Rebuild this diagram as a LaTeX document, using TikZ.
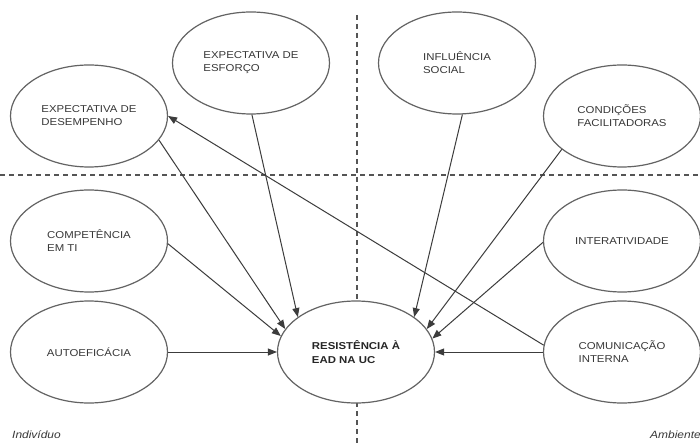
\documentclass[tikz,border=0pt]{standalone}
\usepackage{fontspec}
\setmainfont{Liberation Sans}[FakeStretch=1.14]
\usetikzlibrary{shapes.geometric,arrows.meta}
\definecolor{txt}{HTML}{383838}
\definecolor{edge}{HTML}{636363}
\definecolor{conn}{HTML}{3C3C3C}
\definecolor{dash}{HTML}{555555}
\tikzset{
  construct/.style={ellipse, draw=edge, line width=1.2pt, fill=white,
    minimum width=157pt, minimum height=102pt, inner sep=0pt,
    align=left, text=txt, font=\fontsize{10}{13}\selectfont},
  central/.style={construct, font=\fontsize{10}{13.5}\selectfont\bfseries, text=black!85},
  arr/.style={draw=conn, line width=1pt, -{Triangle[length=9pt,width=7pt]}},
  divider/.style={draw=dash, line width=1.1pt, dash pattern=on 5pt off 4pt},
  region/.style={font=\fontsize{10.5}{12}\selectfont\itshape, text=txt, inner sep=0pt}
}
\begin{document}
\begin{tikzpicture}[x=1pt,y=-1pt]
\useasboundingbox (0,0) rectangle (700,443);
\fill[white] (0,0) rectangle (700,443);
% dividers
\coordinate (hl) at (0,175);
\coordinate (hr) at (700,175);
\coordinate (vt) at (357,15);
\coordinate (vb) at (357,443);
\path[divider] (hl) -- (hr);
\path[divider] (vt) -- (vb);
% constructs
\node[construct] (esforco) at (251,63) {EXPECTATIVA DE\\ESFORÇO};
\node[construct] (desemp) at (89,116) {EXPECTATIVA DE\\DESEMPENHO};
\node[construct] (influ) at (457,63) {INFLUÊNCIA\\SOCIAL};
\node[construct] (cond) at (622,116) {CONDIÇÕES\\FACILITADORAS};
\node[construct] (compet) at (89,241) {COMPETÊNCIA\\EM TI};
\node[construct] (autoef) at (89,352) {AUTOEFICÁCIA};
\node[construct] (inter) at (622,241) {INTERATIVIDADE};
\node[construct] (comun) at (622,352) {COMUNICAÇÃO\\INTERNA};
\node[central] (resist) at (356,352) {RESISTÊNCIA À\\EAD NA UC};
% connectors
\draw[arr] (esforco.-89) -- (resist.149);
\draw[arr] (desemp.-19) -- (resist.162);
\draw[arr] (compet.-2) -- (resist.168);
\draw[arr] (autoef.0) -- (resist.180);
\draw[arr] (influ.-84) -- (resist.31);
\draw[arr] (cond.-151) -- (resist.18);
\draw[arr] (inter.-179) -- (resist.10);
\draw[arr] (comun.180) -- (resist.0);
\draw[arr] (comun.175) -- (desemp.0);
% region labels
\node[region, anchor=base west] (indiv) at (12,438) {Indivíduo};
\node[region, anchor=base west] (amb) at (650,438) {Ambiente};
\end{tikzpicture}
\end{document}
